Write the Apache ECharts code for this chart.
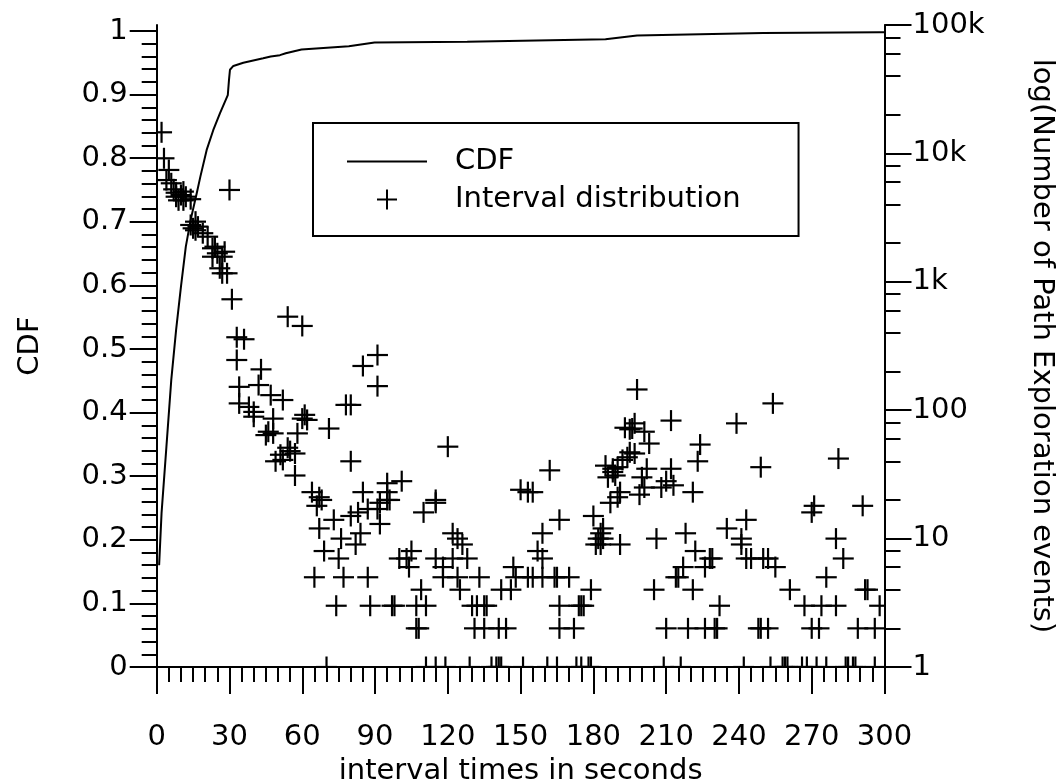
<!DOCTYPE html>
<html>
<head>
<meta charset="utf-8">
<script src="https://cdn.jsdelivr.net/npm/echarts@6/dist/echarts.min.js"></script>
<style>
html,body{margin:0;padding:0;background:#fff;}
#chart{width:1057px;height:783px;}
</style>
</head>
<body>
<div id="chart"></div>
<script>
// ---- data ----
var cdfX = [1, 2, 4, 6, 8, 10, 12, 14, 16.5, 18, 20.6, 23.3, 26.1, 29.3, 29.8, 30.2, 31.6, 35.7, 43.9, 47, 50.8, 53.2, 59.7, 79.2, 89.8, 128, 185, 198, 250, 298, 300];
var cdfY = [0.16, 0.242, 0.346, 0.451, 0.53, 0.598, 0.661, 0.703, 0.745, 0.771, 0.813, 0.844, 0.871, 0.899, 0.923, 0.939, 0.945, 0.95, 0.957, 0.96, 0.962, 0.965, 0.971, 0.976, 0.982, 0.983, 0.987, 0.993, 0.997, 0.998, 0.998];

var intervalX = [
  2, 3, 5, 4, 6, 7, 8, 10, 11, 12, 9, 11, 14, 8,
  14, 16, 17, 16, 15, 19, 21, 23, 24, 28, 27, 23, 25, 27, 29, 26, 31, 30,
  54, 60, 33, 36, 33, 43, 34, 42, 47, 52, 85, 91, 91,
  34, 38, 40, 40, 48, 46, 45, 48, 60, 62, 61, 58, 71, 78, 80, 80,
  54, 55, 51, 49, 52, 57, 57, 64, 67, 85, 95, 95,
  120, 162, 68, 66, 87, 83, 101, 95, 96, 92, 92, 91, 80, 73,
  67, 76, 82, 84, 69, 75, 65, 77, 87, 74, 88, 97, 98, 107, 111, 109, 103, 100, 105, 104, 107, 108,
  115, 115, 110,
  122, 124, 126, 128, 122, 115, 118, 118, 124, 125, 133, 130, 132, 135, 136, 131, 135, 141, 144,
  147, 148, 146, 142, 153, 155, 159, 159, 157, 159, 165, 150, 153, 155,
  70, 111, 115, 119, 129, 138, 140, 141, 142, 151, 161, 165,
  198, 212, 193, 195, 196, 197, 201, 203, 224, 223, 195, 197, 194, 192,
  185, 188, 190, 186, 189, 188, 202, 212, 200,
  201, 208, 213, 210, 221, 199, 191, 187, 190,
  166, 180, 184, 183, 182, 181, 191, 183, 184, 206,
  218, 222, 228, 226, 217, 215, 214, 164, 170, 179, 205, 221,
  166, 174, 175, 176, 166, 172, 210, 219, 226, 230, 231, 232,
  173, 175, 178, 179, 209, 216,
  254, 239, 249, 281, 291, 271, 270, 243, 235,
  241, 241, 243, 245, 250, 252, 255, 229, 280, 283, 276,
  261, 292, 293, 267, 274, 280, 298, 248, 249, 252, 270, 273, 289, 296,
  242, 253, 258, 259, 260, 266, 268, 272, 276, 284, 285, 287, 288, 296
];
var intervalCount = [
  14600, 9160, 7430, 6200, 5850, 5250, 4940, 4740, 5040, 4600, 4310, 4310, 4400, 4600,
  2770, 2940, 2690, 2520, 2610, 2390, 2245, 1824, 1877, 1715, 1568, 1568, 1667, 1165, 1165, 1274, 731, 5190,
  535, 453, 370, 357, 246, 208, 152, 157, 131, 120, 221, 269, 154,
  113, 106, 97, 89, 86, 68, 64, 66, 86, 84, 92, 66, 72, 110, 110, 40,
  51, 48, 45, 40, 41, 46, 31, 23, 21, 23, 27, 23,
  52, 34, 20, 18, 17, 16, 28, 20, 20, 19, 13, 17, 15, 14,
  12, 10, 9, 11, 8, 7, 5, 5, 5, 3, 3, 3, 3, 3, 3, 4, 7, 7, 8, 6, 2, 2,
  19, 20, 16,
  11, 10, 9, 7, 7, 7, 6, 5, 5, 4, 5, 3, 3, 3, 3, 2, 2, 2, 2,
  6, 5, 4, 4, 5, 5, 5, 11, 8, 7, 5, 24, 23, 23,
  1, 1, 1, 1, 1, 1, 1, 1, 1, 1, 1, 1,
  145, 83, 73, 71, 72, 79, 68, 55, 54, 40, 47, 46, 43, 41,
  37, 35, 36, 30, 31, 33, 35, 35, 30,
  25, 25, 26, 28, 23, 22, 23, 19, 21,
  14, 15, 12, 11, 10, 9, 9, 9, 10, 10,
  11, 8, 7, 6, 6, 5, 5, 5, 5, 4, 4, 4,
  3, 3, 3, 3, 2, 2, 2, 2, 2, 2, 2, 3,
  1, 1, 1, 1, 1, 1,
  113, 79, 36, 42, 18, 18, 16, 14, 12,
  10, 9, 7, 7, 7, 7, 6, 7, 10, 7, 5,
  4, 4, 4, 3, 3, 3, 3, 2, 2, 2, 2, 2, 2, 2,
  1, 1, 1, 1, 1, 1, 1, 1, 1, 1, 1, 1, 1, 1
];

var leftTicks = [0, 0.1, 0.2, 0.3, 0.4, 0.5, 0.6, 0.7, 0.8, 0.9, 1];
var leftMinorTicks = [0.02, 0.04, 0.06, 0.08, 0.12, 0.14, 0.16, 0.18, 0.22, 0.24, 0.26, 0.28,
  0.32, 0.34, 0.36, 0.38, 0.42, 0.44, 0.46, 0.48, 0.52, 0.54, 0.56, 0.58, 0.62, 0.64, 0.66, 0.68,
  0.72, 0.74, 0.76, 0.78, 0.82, 0.84, 0.86, 0.88, 0.92, 0.94, 0.96, 0.98];
var rightTicks = [1, 10, 100, 1000, 10000, 100000];
var rightTickLabels = ['1', '10', '100', '1k', '10k', '100k'];
var rightMinorTicks = [2, 4, 6, 8, 20, 40, 60, 80, 200, 400, 600, 800, 2000, 4000, 6000, 8000, 20000, 40000, 60000, 80000];

// ---- chart ----
var FONT = 'DejaVu Sans';
var FS = 29;
var leftMax = 1.0094;
var plusIcon = 'path://M9,0H11V20H9ZM0,9H20V11H0Z';
var lineIcon = 'path://M0,0H40V1H0Z';
var blackLine = {color: '#000', width: 2};

var chart = echarts.init(document.getElementById('chart'), null, {renderer: 'canvas'});
var cdfData = cdfX.map(function (x, i) { return [x, cdfY[i]]; });
var intervalData = intervalX.map(function (x, i) { return [x, intervalCount[i]]; });

chart.setOption({
  animation: false,
  color: ['#000', '#000'],
  textStyle: {fontFamily: FONT, color: '#000'},
  grid: {left: 156.7, right: 172.5, top: 25, bottom: 116, containLabel: false, outerBoundsMode: 'none'},
  legend: {
    left: 313, top: 123,
    orient: 'vertical',
    itemWidth: 80, itemHeight: 20, itemGap: 9,
    padding: [24, 58, 22, 34],
    borderColor: '#000', borderWidth: 2, borderRadius: 0,
    symbolKeepAspect: true,
    textStyle: {fontFamily: FONT, fontSize: FS, color: '#000', padding: [0, 0, 0, 23]},
    data: [
      {name: 'CDF', icon: lineIcon, itemStyle: {color: '#000'}},
      {name: 'Interval distribution', icon: plusIcon, itemStyle: {color: '#000'}}
    ]
  },
  xAxis: {
    type: 'value', min: 0, max: 300, interval: 30,
    name: 'interval times in seconds', nameLocation: 'middle', nameGap: 88,
    nameTextStyle: {fontFamily: FONT, fontSize: FS, color: '#000'},
    axisLine: {show: true, lineStyle: blackLine},
    axisTick: {show: true, length: 27, lineStyle: blackLine},
    minorTick: {show: true, splitNumber: 6, length: 15, lineStyle: blackLine},
    axisLabel: {fontFamily: FONT, fontSize: FS, color: '#000', margin: 56},
    splitLine: {show: false}
  },
  yAxis: [
    {
      type: 'value', min: 0, max: leftMax, position: 'left',
      name: 'CDF', nameLocation: 'middle', nameGap: 112, nameRotate: 90,
      nameTextStyle: {fontFamily: FONT, fontSize: FS, color: '#000'},
      axisLine: {show: true, lineStyle: blackLine},
      axisTick: {show: true, length: 27, lineStyle: blackLine, customValues: leftTicks},
      axisLabel: {fontFamily: FONT, fontSize: FS, color: '#000', margin: 29, customValues: leftTicks},
      splitLine: {show: false}
    },
    {
      type: 'log', logBase: 10, min: 1, max: 100000, position: 'right',
      name: 'log(Number of Path Exploration events)', nameLocation: 'middle', nameGap: 143, nameRotate: -90,
      nameTextStyle: {fontFamily: FONT, fontSize: FS, color: '#000'},
      axisLine: {show: true, lineStyle: blackLine},
      axisTick: {show: true, length: 27, lineStyle: blackLine, customValues: rightTicks},
      axisLabel: {
        fontFamily: FONT, fontSize: FS, color: '#000', margin: 28, customValues: rightTicks,
        formatter: function (v) {
          var idx = rightTicks.indexOf(Math.round(v));
          return idx >= 0 ? rightTickLabels[idx] : '';
        }
      },
      splitLine: {show: false}
    },
    {
      type: 'value', min: 0, max: leftMax, position: 'left',
      axisLine: {show: false},
      axisTick: {show: true, length: 15, lineStyle: blackLine, customValues: leftMinorTicks},
      axisLabel: {show: false},
      splitLine: {show: false}
    },
    {
      type: 'log', logBase: 10, min: 1, max: 100000, position: 'right',
      axisLine: {show: false},
      axisTick: {show: true, length: 16, lineStyle: blackLine, customValues: rightMinorTicks},
      axisLabel: {show: false},
      splitLine: {show: false}
    }
  ],
  series: [
    {
      name: 'CDF', type: 'line', xAxisIndex: 0, yAxisIndex: 0,
      data: cdfData, symbol: 'none', showSymbol: false,
      lineStyle: {color: '#000', width: 2}, itemStyle: {color: '#000'},
      clip: false, z: 3
    },
    {
      name: 'Interval distribution', type: 'custom', xAxisIndex: 0, yAxisIndex: 1,
      coordinateSystem: 'cartesian2d',
      data: intervalData, encode: {x: 0, y: 1},
      itemStyle: {color: '#000'},
      clip: true, z: 2,
      renderItem: function (params, api) {
        var p = api.coord([api.value(0), api.value(1)]);
        var h = 10.5;
        return {
          type: 'group',
          children: [
            {type: 'line', shape: {x1: p[0] - h, y1: p[1], x2: p[0] + h, y2: p[1]}, style: {stroke: '#000', lineWidth: 2.2}},
            {type: 'line', shape: {x1: p[0], y1: p[1] - h, x2: p[0], y2: p[1] + h}, style: {stroke: '#000', lineWidth: 2.2}}
          ]
        };
      }
    }
  ]
});
</script>
</body>
</html>
